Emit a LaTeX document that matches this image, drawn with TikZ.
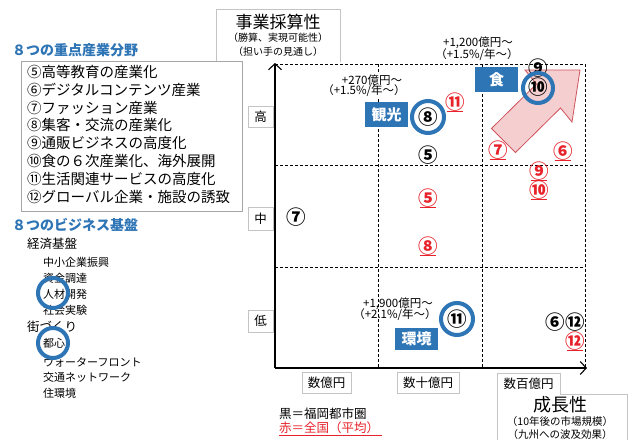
\documentclass[tikz,border=0pt]{standalone}
\usepackage{fontspec}
\setmainfont{Noto Sans CJK JP}
\usetikzlibrary{arrows.meta}
\definecolor{myblue}{HTML}{2E75B6}
\definecolor{myred}{HTML}{E8222A}
\definecolor{pinkfill}{HTML}{F5CFD0}
\definecolor{pinkline}{HTML}{D0545C}
\definecolor{boxgray}{HTML}{C4C4C4}
\definecolor{listgray}{HTML}{A6A6A6}
\newcommand{\fs}[1]{\fontsize{#1}{#1}\selectfont}
\begin{document}
\begin{tikzpicture}[x=1pt,y=-1pt,
  gridline/.style={dash pattern=on 3pt off 2pt, line width=0.7pt},
  axis/.style={line width=1.3pt, -{Straight Barb[length=6pt,width=13pt,line width=1.1pt]}},
  lbl/.style={draw=boxgray, fill=white, inner sep=0pt, minimum height=21pt, font=\fs{12.5}},
  tagbox/.style={fill=myblue, text=white, font=\fs{15}\bfseries, minimum width=43pt, minimum height=25pt, inner sep=0pt},
  num/.style={font=\fs{19.5}\bfseries, inner sep=0pt},
  rnum/.style={num, text=myred, append after command={(\tikzlastnode.south west) edge[draw=myred, line width=1pt, shorten <=1.5pt, shorten >=1.5pt] (\tikzlastnode.south east)}},
  ring/.style={draw=myblue, line width=4pt, circle, minimum size=32pt, inner sep=0pt},
  smallring/.style={draw=myblue, line width=4pt, circle, minimum size=30pt, inner sep=0pt},
  note/.style={inner sep=0.3pt, font=\fs{11.5}, align=center},
  listitem/.style={anchor=base west, inner sep=0pt, font=\fs{14.5}},
  bigitem/.style={anchor=base west, inner sep=0pt, font=\fs{12.5}},
  smallitem/.style={anchor=base west, inner sep=0pt, font=\fs{11}},
  bluetitle/.style={anchor=base west, inner sep=0pt, font=\fs{14}\bfseries, text=myblue}
]
\useasboundingbox (0,0) rectangle (629,439);
\fill[white] (0,0) rectangle (629,439);

% ---- left side ----
\draw[boxgray, line width=0.8pt] (216,62) -- (216,9) -- (340,9) -- (340,62);
\node[font=\fs{17}, inner sep=0pt] (t1) at (278,22) {事業採算性};
\node[font=\fs{10}, inner sep=0pt] (t2) at (278,38) {（勝算、実現可能性）};
\node[font=\fs{10}, inner sep=0pt] (t3) at (278,52) {（担い手の見通し）};

\node[bluetitle] (h1) at (12,55.5) {８つの重点産業分野};
\draw[listgray, line width=0.8pt, fill=white] (21,61) rectangle (242,211);
\node[listitem] (i5) at (27,77.2) {⑤高等教育の産業化};
\node[listitem] (i6) at (27,95.1) {⑥デジタルコンテンツ産業};
\node[listitem] (i7) at (27,113) {⑦ファッション産業};
\node[listitem] (i8) at (27,130.9) {⑧集客・交流の産業化};
\node[listitem] (i9) at (27,148.8) {⑨通販ビジネスの高度化};
\node[listitem] (i10) at (27,166.7) {⑩食の６次産業化、海外展開};
\node[listitem] (i11) at (27,184.6) {⑪生活関連サービスの高度化};
\node[listitem] (i12) at (27,202.5) {⑫グローバル企業・施設の誘致};

\node[bluetitle] (h2) at (12,230.3) {８つのビジネス基盤};
\node[bigitem] (b1) at (27,248) {経済基盤};
\node[smallitem] (b2) at (43,266) {中小企業振興};
\node[smallitem] (b3) at (43,282.5) {資金調達};
\node[smallitem] (b4) at (43,298.2) {人材開発};
\node[smallitem] (b5) at (43,314.2) {社会実験};
\node[bigitem] (b6) at (27,331.5) {街づくり};
\node[smallitem] (b7) at (43,347.5) {都心};
\node[smallitem] (b8) at (43,366) {ウォーターフロント};
\node[smallitem] (b9) at (43,381) {交通ネットワーク};
\node[smallitem] (b10) at (43,397) {住環境};
\node[smallring] (c1) at (53,293) {};
\node[smallring] (c2) at (53,343) {};

% ---- grid ----
\draw[gridline] (275,64) -- (585,64);
\draw[gridline] (378,64) -- (378,368);
\draw[gridline] (482,64) -- (482,368);
\draw[gridline] (585,64) -- (585,368);
\draw[gridline] (275,165) -- (585,165);
\draw[gridline] (275,267) -- (585,267);

% ---- axes ----
\coordinate (O) at (275,368);
\coordinate (Ytop) at (275,63);
\coordinate (Xend) at (587,368);
\draw[axis] (O) -- (Ytop);
\draw[axis] (O) -- (Xend);

% ---- axis labels ----
\node[lbl, minimum width=25pt] (lh) at (260.5,116.5) {高};
\node[lbl, minimum width=25pt, minimum height=23pt] (lm) at (260.5,218.5) {中};
\node[lbl, minimum width=25pt, minimum height=22pt] (ll) at (260.5,321) {低};
\node[lbl, minimum width=49pt] (x1) at (326.5,382.5) {数億円};
\node[lbl, minimum width=62pt] (x2) at (428,382.5) {数十億円};
\draw[boxgray, line width=0.8pt, fill=white] (497,373) -- (560,373) -- (560,394) -- (627,394) -- (627,445) -- (497,445) -- cycle;
\node[font=\fs{12.5}, inner sep=0pt] (x3) at (528.5,383.5) {数百億円};
\node[font=\fs{18}, inner sep=0pt] (g1) at (560,405) {成長性};
\node[font=\fs{10.5}, inner sep=0pt] (g2) at (560,422) {（10年後の市場規模）};
\node[font=\fs{10.5}, inner sep=0pt] (g3) at (560,435) {（九州への波及効果）};

% ---- legend ----
\node[anchor=base west, inner sep=0pt, font=\fs{12.5}] (k1) at (279,418) {黒＝福岡都市圏};
\node[anchor=base west, inner sep=0pt, font=\fs{12.5}, text=myred] (k2) at (279,432) {赤＝全国（平均）};
\coordinate (ku1) at (279,435);
\coordinate (ku2) at (382,435);
\draw[myred, line width=0.8pt] (ku1) -- (ku2);

% ---- pink arrow ----
\draw[fill=pinkfill, draw=pinkline, line width=0.8pt] (580,70) -- (525,70) -- (536.5,84) -- (491.5,128.5) -- (515.5,152.5) -- (560.5,108) -- (572,122) -- cycle;

% ---- annotations ----
\node[note] (a1) at (478,43) {+1,200億円～};
\node[note] (a2) at (477,55) {（+1.5\%/年～）};
\node[note, fill=white] (a3) at (372,80) {+270億円～};
\node[note, fill=white] (a4) at (364,91) {（+1.5\%/年～）};
\node[note] (a5) at (398,304) {+1,900億円～};
\node[note] (a6) at (395,315) {（+2.1\%/年～）};

\node[tagbox] (kanko) at (386.5,114.5) {観光};
\node[tagbox] (shoku) at (496.5,79.5) {食};
\node[tagbox, minimum height=22pt] (kankyo) at (416.5,339) {環境};

% ---- numbers ----
\node[num] (n8a) at (428,117) {⑧};
\node[ring] (r8) at (428,117) {};
\node[rnum] (n11a) at (455,102) {⑪};
\node[num] (n9a) at (538,68) {⑨};
\node[num] (n10a) at (538,87) {⑩};
\node[ring, minimum size=30pt] (r10) at (538,88) {};
\node[rnum] (n7a) at (498,150) {⑦};
\node[rnum] (n6a) at (563,151) {⑥};
\node[num] (n5a) at (428,155) {⑤};
\node[rnum] (n9b) at (539,171) {⑨};
\node[rnum] (n10b) at (539,190) {⑩};
\node[rnum] (n5b) at (428,198) {⑤};
\node[rnum] (n8b) at (428,246) {⑧};
\node[num] (n7b) at (296,217) {⑦};
\node[num] (n11b) at (457,319) {⑪};
\node[ring] (r11) at (457,319) {};
\node[num] (n6b) at (555,322) {⑥};
\node[num] (n12a) at (575,322) {⑫};
\node[rnum] (n12b) at (575,341) {⑫};
\end{tikzpicture}
\end{document}
